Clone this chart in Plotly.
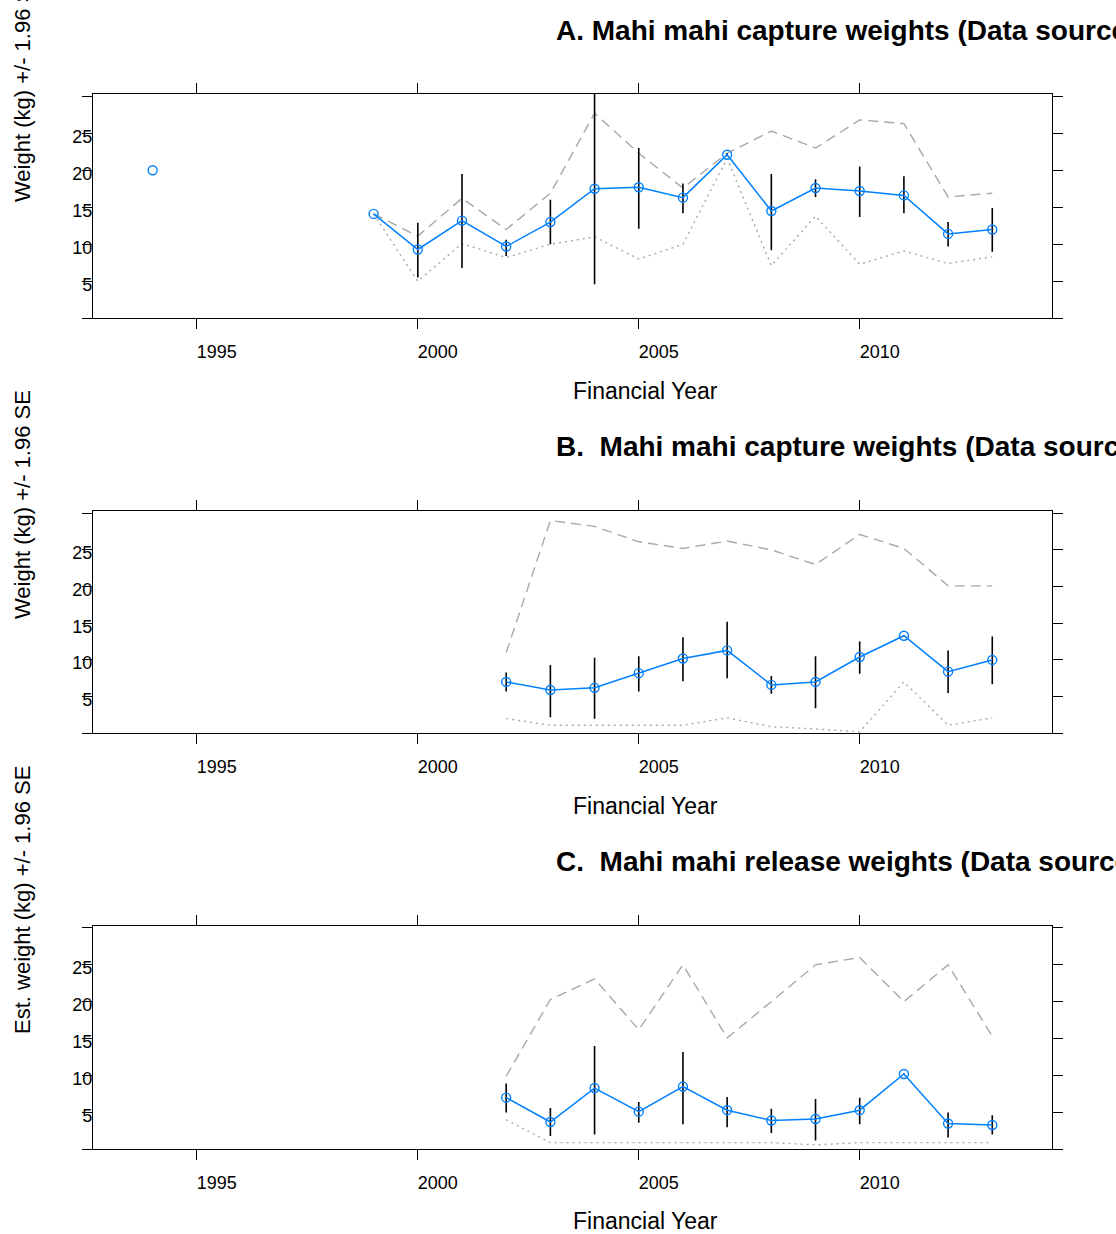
import plotly.graph_objects as go

W, H = 1116, 1234

years = list(range(1994, 2014))
N = None

# Panel A: capture weights
A_mean = [20.0, N, N, N, N, 14.1, 9.3, 13.2, 9.7, 13.0, 17.5, 17.7, 16.3, 22.1, 14.5, 17.6, 17.2, 16.6, 11.4, 12.0]
A_hi   = [N, N, N, N, N, N, 12.9, 19.5, 10.6, 16.0, 31.0, 23.0, 18.2, 22.3, 19.5, 18.8, 20.5, 19.2, 13.0, 14.9]
A_lo   = [N, N, N, N, N, N, 5.5, 6.8, 8.4, 10.0, 4.6, 12.1, 14.2, 21.9, 9.2, 16.4, 13.7, 14.2, 9.7, 9.0]
A_max  = [N, N, N, N, N, 14.1, 11.1, 16.2, 12.0, 16.9, 27.7, 22.3, 17.6, 22.3, 25.3, 23.0, 26.8, 26.3, 16.4, 16.9]
A_min  = [N, N, N, N, N, 14.1, 5.0, 10.1, 8.2, 10.0, 11.0, 8.0, 10.0, 21.6, 7.1, 13.8, 7.3, 9.1, 7.4, 8.3]

# Panel B: capture weights
pad = [N] * 8
B_mean = pad + [7.0, 5.9, 6.2, 8.2, 10.2, 11.3, 6.6, 7.0, 10.4, 13.3, 8.4, 10.0]
B_hi   = pad + [8.3, 9.3, 10.3, 10.5, 13.1, 15.2, 7.8, 10.5, 12.5, 13.4, 11.3, 13.2]
B_lo   = pad + [5.7, 2.2, 2.0, 5.7, 7.1, 7.5, 5.4, 3.4, 8.1, 13.2, 5.5, 6.7]
B_max  = pad + [11.0, 29.0, 28.2, 26.1, 25.2, 26.2, 25.0, 23.0, 27.1, 25.2, 20.1, 20.1]
B_min  = pad + [2.0, 1.1, 1.1, 1.1, 1.1, 2.1, 0.9, 0.6, 0.2, 7.0, 1.1, 2.1]

# Panel C: release weights
C_mean = pad + [7.0, 3.7, 8.3, 5.1, 8.5, 5.3, 3.9, 4.1, 5.3, 10.2, 3.5, 3.3]
C_hi   = pad + [8.9, 5.6, 14.0, 6.4, 13.2, 7.1, 5.5, 6.8, 7.0, 10.3, 5.0, 4.6]
C_lo   = pad + [5.0, 1.8, 2.0, 3.6, 3.4, 3.0, 2.2, 1.2, 3.4, 10.1, 1.6, 2.0]
C_max  = pad + [9.9, 20.3, 23.1, 16.2, 25.0, 15.1, 20.0, 25.0, 26.0, 20.0, 25.0, 15.3]
C_min  = pad + [4.0, 0.9, 0.9, 0.9, 0.9, 0.9, 0.9, 0.6, 0.9, 0.9, 0.9, 0.9]

titles = ["A. Mahi mahi capture weights (Data source",
          "B.  Mahi mahi capture weights (Data source",
          "C.  Mahi mahi release weights (Data source"]
ytitles = ["Weight (kg) +/- 1.96 SE", "Weight (kg) +/- 1.96 SE", "Est. weight (kg) +/- 1.96 SE"]
xtitle = "Financial Year"
xtick_vals = [1995, 2000, 2005, 2010]
ytick_vals = [0, 5, 10, 15, 20, 25, 30]
ytick_text = ["", "5", "10", "15", "20", "25", ""]

panels = [
    (A_mean, A_hi, A_lo, A_max, A_min),
    (B_mean, B_hi, B_lo, B_max, B_min),
    (C_mean, C_hi, C_lo, C_max, C_min),
]

# layout geometry (pixels)
box_x = (93, 1051.5)
box_y = [(94, 318.3), (511, 733.3), (925.7, 1149.3)]
title_y = [30, 446, 861]
xlab_y = [391, 806, 1221]
ylab_y = [88, 505, 900]

FONT = "Liberation Sans, Arial, Helvetica, sans-serif"
BLUE = "#0080ff"
GREY = "#a8a8a8"

fig = go.Figure()

for i, (mean, hi, lo, mx, mn) in enumerate(panels):
    xa = "x" if i == 0 else f"x{i+1}"
    ya = "y" if i == 0 else f"y{i+1}"
    fig.add_trace(go.Scatter(x=years, y=mx, mode="lines", xaxis=xa, yaxis=ya,
                             line=dict(color=GREY, width=1.4, dash="10px,6px"),
                             connectgaps=False, hoverinfo="skip", showlegend=False))
    fig.add_trace(go.Scatter(x=years, y=mn, mode="lines", xaxis=xa, yaxis=ya,
                             line=dict(color=GREY, width=1.4, dash="2px,4px"),
                             connectgaps=False, hoverinfo="skip", showlegend=False))
    up = [None if (h is None or m is None) else h - m for h, m in zip(hi, mean)]
    dn = [None if (l is None or m is None) else m - l for l, m in zip(lo, mean)]
    fig.add_trace(go.Scatter(x=years, y=mean, mode="markers", xaxis=xa, yaxis=ya,
                             marker=dict(size=1, color="rgba(0,0,0,0)"),
                             error_y=dict(type="data", symmetric=False,
                                          array=[u if u is not None else 0 for u in up],
                                          arrayminus=[d if d is not None else 0 for d in dn],
                                          color="black", thickness=1.6, width=0),
                             hoverinfo="skip", showlegend=False))
    fig.add_trace(go.Scatter(x=years, y=mean, mode="lines+markers", xaxis=xa, yaxis=ya,
                             line=dict(color=BLUE, width=1.5),
                             marker=dict(symbol="circle-open", size=9, color=BLUE,
                                         line=dict(width=1.4, color=BLUE)),
                             connectgaps=False, showlegend=False))

layout = dict(
    width=W, height=H,
    margin=dict(l=0, r=0, t=0, b=0),
    paper_bgcolor="white", plot_bgcolor="white",
    font=dict(family=FONT, color="black"),
    showlegend=False,
    annotations=[],
)

for i in range(3):
    xk = "xaxis" if i == 0 else f"xaxis{i+1}"
    yk = "yaxis" if i == 0 else f"yaxis{i+1}"
    ya = "y" if i == 0 else f"y{i+1}"
    xa = "x" if i == 0 else f"x{i+1}"
    top, bot = box_y[i]
    layout[xk] = dict(
        domain=[box_x[0] / W, box_x[1] / W], anchor=ya,
        range=[1992.65, 2014.34], tickvals=xtick_vals,
        ticks="outside", ticklen=10, tickwidth=1.3, tickcolor="black",
        showline=True, linecolor="black", linewidth=1.3, mirror="ticks",
        showgrid=False, zeroline=False,
        tickfont=dict(size=18, family=FONT, color="black"),
        ticklabelshift=20, ticklabelstandoff=7,
    )
    layout[yk] = dict(
        domain=[1 - bot / H, 1 - top / H], anchor=xa,
        range=[0, 30.3], tickvals=ytick_vals, ticktext=ytick_text,
        ticks="outside", ticklen=10, tickwidth=1.3, tickcolor="black",
        showline=True, linecolor="black", linewidth=1.3, mirror="ticks",
        showgrid=False, zeroline=False,
        tickfont=dict(size=18, family=FONT, color="black"),
        ticklabelstandoff=-14, ticklabelshift=3,
    )
    layout["annotations"] += [
        dict(text=f"<b>{titles[i]}</b>", x=554 / W, y=1 - title_y[i] / H,
             xref="paper", yref="paper", xanchor="left", yanchor="middle",
             showarrow=False, font=dict(size=28, family=FONT, color="black")),
        dict(text=xtitle, x=645 / W, y=1 - xlab_y[i] / H,
             xref="paper", yref="paper", xanchor="center", yanchor="middle",
             showarrow=False, font=dict(size=23, family=FONT, color="black")),
        dict(text=ytitles[i], x=22 / W, y=1 - ylab_y[i] / H, textangle=-90,
             xref="paper", yref="paper", xanchor="center", yanchor="middle",
             showarrow=False, font=dict(size=22, family=FONT, color="black")),
    ]

fig.update_layout(**layout)
fig.write_html("out.html")
